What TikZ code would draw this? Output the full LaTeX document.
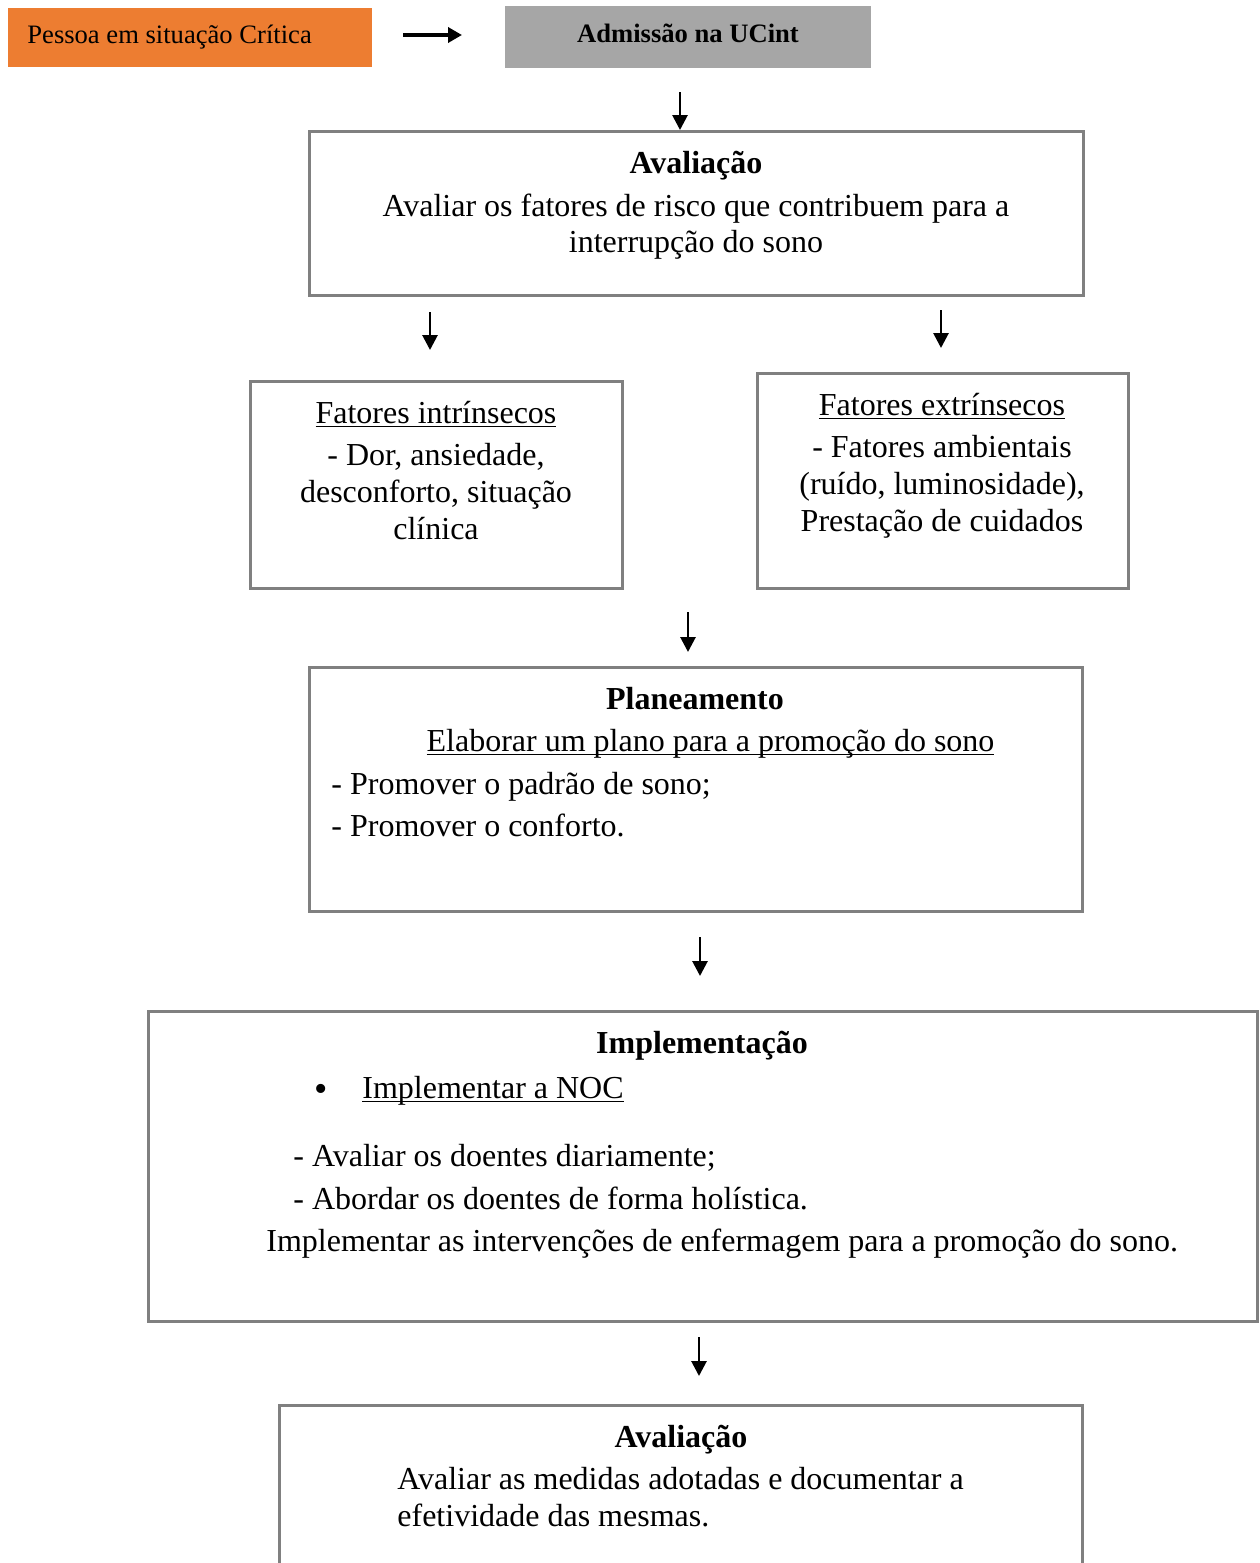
\documentclass[tikz,border=0pt]{standalone}
\usepackage{fontspec}
\setmainfont{Liberation Serif}
\usetikzlibrary{arrows.meta}
\definecolor{laranja}{RGB}{237,125,49}
\definecolor{cinza}{RGB}{166,166,166}
\definecolor{borda}{RGB}{128,128,128}

\begin{document}
\begin{tikzpicture}[x=0.5pt,y=-0.5pt,>={Triangle[length=7.5pt,width=7.5pt]},
	caixa/.style={draw=borda, line width=1.5pt, inner sep=0pt},
	topo/.style={inner sep=0pt, font=\fontsize{13.3}{15}\selectfont},
	txt/.style={inner sep=0pt, anchor=base, yshift=-0.75pt, font=\fontsize{16}{18.5}\selectfont},
	txtw/.style={txt, anchor=base west},
	seta/.style={->, line width=1.4pt}]
	\clip (0,0) rectangle (1259,1563);

	% topo
	\node (pessoa) at (190,37.5) [fill=laranja, minimum width=182pt, minimum height=29.5pt, inner sep=0pt] {};
	\node (admissao) at (688,37) [fill=cinza, minimum width=183pt, minimum height=31pt, inner sep=0pt] {};
	\node (pessoa-t) at (27,43.5) [topo, anchor=base west] {Pessoa em situação Crítica};
	\node (admissao-t) at (688,42.5) [topo, anchor=base, font=\fontsize{13.3}{15}\selectfont\bfseries] {Admissão na UCint};

	% caixas
	\node (aval) at (696,213) [caixa, minimum width=387pt, minimum height=82pt] {};
	\node (intr) at (436,484.5) [caixa, minimum width=186pt, minimum height=103.5pt] {};
	\node (extr) at (942.5,480.5) [caixa, minimum width=185.5pt, minimum height=107.5pt] {};
	\node (plan) at (695.5,789) [caixa, minimum width=386.5pt, minimum height=122pt] {};
	\node (impl) at (702.5,1166) [caixa, minimum width=554.5pt, minimum height=155pt] {};
	\node (aval2) at (680.5,1552.5) [caixa, minimum width=401.5pt, minimum height=147.5pt] {};

	% textos
	\node (aval-t) at (696,172) [txt, font=\fontsize{16}{18.5}\selectfont\bfseries] {Avaliação};
	\node (aval-a) at (696,215) [txt] {Avaliar os fatores de risco que contribuem para a};
	\node (aval-b) at (696,251) [txt] {interrupção do sono};

	\node (intr-t) at (436,422) [txt] {\underbar{Fatores intrínsecos}};
	\node (intr-a) at (436,464) [txt] {- Dor, ansiedade,};
	\node (intr-b) at (436,501) [txt] {desconforto, situação};
	\node (intr-c) at (436,538) [txt] {clínica};

	\node (extr-t) at (942,414) [txt] {\underbar{Fatores extrínsecos}};
	\node (extr-a) at (942,456) [txt] {- Fatores ambientais};
	\node (extr-b) at (942,493) [txt] {(ruído, luminosidade),};
	\node (extr-c) at (942,530) [txt] {Prestação de cuidados};

	\node (plan-t) at (695,708) [txt, font=\fontsize{16}{18.5}\selectfont\bfseries] {Planeamento};
	\node (plan-s) at (710.5,750) [txt] {\underbar{Elaborar um plano para a promoção do sono}};
	\node (plan-a) at (331,793) [txtw] {- Promover o padrão de sono;};
	\node (plan-b) at (331,835) [txtw] {- Promover o conforto.};

	\node (impl-t) at (702,1052) [txt, font=\fontsize{16}{18.5}\selectfont\bfseries] {Implementação};
	\node (impl-p) at (321.5,1100) [txt, font=\fontsize{19}{20}\selectfont] {\textbullet};
	\node (impl-s) at (362,1097) [txtw] {\underbar{Implementar a NOC}};
	\node (impl-a) at (293,1165) [txtw] {- Avaliar os doentes diariamente;};
	\node (impl-b) at (293,1208) [txtw] {- Abordar os doentes de forma holística.};
	\node (impl-c) at (266,1250) [txtw] {Implementar as intervenções de enfermagem para a promoção do sono.};

	\node (aval2-t) at (681,1446) [txt, font=\fontsize{16}{18.5}\selectfont\bfseries] {Avaliação};
	\node (aval2-a) at (397,1488) [txtw] {Avaliar as medidas adotadas e documentar a};
	\node (aval2-b) at (397,1525) [txtw] {efetividade das mesmas.};

	% setas
	\coordinate (s1a) at (403,35);   \coordinate (s1b) at (462,35);
	\coordinate (s2a) at (680,92);   \coordinate (s2b) at (680,130);
	\coordinate (s3a) at (430,312);  \coordinate (s3b) at (430,350);
	\coordinate (s4a) at (941,310);  \coordinate (s4b) at (941,348);
	\coordinate (s5a) at (688,612);  \coordinate (s5b) at (688,652);
	\coordinate (s6a) at (700,937);  \coordinate (s6b) at (700,976);
	\coordinate (s7a) at (699,1337); \coordinate (s7b) at (699,1376);
	\draw [seta, line width=2pt, >={Triangle[length=7pt,width=7.5pt]}] (s1a) -- (s1b);
	\draw [seta] (s2a) -- (s2b);
	\draw [seta] (s3a) -- (s3b);
	\draw [seta] (s4a) -- (s4b);
	\draw [seta] (s5a) -- (s5b);
	\draw [seta] (s6a) -- (s6b);
	\draw [seta] (s7a) -- (s7b);
\end{tikzpicture}
\end{document}
